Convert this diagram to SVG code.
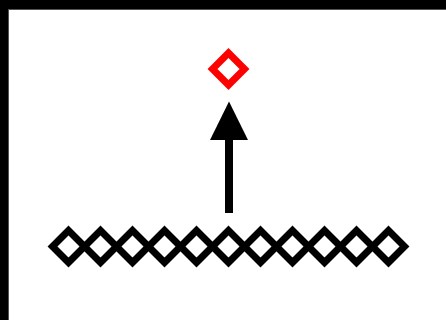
<svg xmlns="http://www.w3.org/2000/svg" width="446" height="320" viewBox="0 0 446 320">
<defs>
<style>
.d{fill:none;stroke-width:7;stroke-linejoin:miter}
.blk{stroke:#000}
.red{stroke:#f00}
</style>
<path id="dia" d="M0,-16 L16,0 L0,16 L-16,0 Z"/>
</defs>
<rect x="0" y="0" width="446" height="320" fill="#000"/>
<rect x="8.5" y="9.5" width="438" height="311" fill="#fff" stroke="#555" stroke-width="1"/>
<g id="target"><use href="#dia" class="d red" x="228.5" y="69"/></g>
<g id="chain">
<use href="#dia" class="d blk" x="68.5" y="246.5"/>
<use href="#dia" class="d blk" x="100.5" y="246.5"/>
<use href="#dia" class="d blk" x="132.5" y="246.5"/>
<use href="#dia" class="d blk" x="164.5" y="246.5"/>
<use href="#dia" class="d blk" x="196.5" y="246.5"/>
<use href="#dia" class="d blk" x="228.5" y="246.5"/>
<use href="#dia" class="d blk" x="260.5" y="246.5"/>
<use href="#dia" class="d blk" x="292.5" y="246.5"/>
<use href="#dia" class="d blk" x="324.5" y="246.5"/>
<use href="#dia" class="d blk" x="356.5" y="246.5"/>
<use href="#dia" class="d blk" x="388.5" y="246.5"/>
</g>
<g id="connectors">
<line x1="229" y1="213" x2="229" y2="138" stroke="#000" stroke-width="8"/>
<polygon points="229,101.5 210,140 248,140" fill="#000"/>
</g>
</svg>
